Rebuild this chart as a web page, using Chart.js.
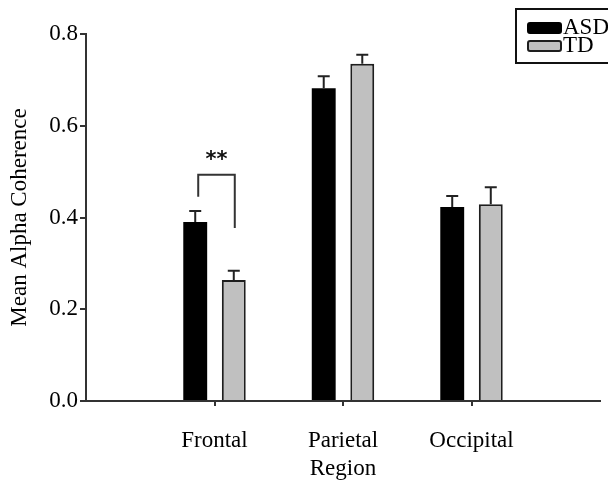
<!DOCTYPE html>
<html>
<head>
<meta charset="utf-8">
<script src="https://cdn.jsdelivr.net/npm/chart.js@4/dist/chart.umd.min.js"></script>
<style>
  body { margin: 0; background: #fff; }
  canvas { display: block; }
</style>
</head>
<body>
<canvas id="chart" width="608" height="484"></canvas>
<script>
// data
var regions = ['', 'Frontal', 'Parietal', 'Occipital', ''];
var asdMean = [null, 0.39, 0.682, 0.423, null];
var asdErr = [null, 0.024, 0.026, 0.024, null];
var tdMean = [null, 0.264, 0.735, 0.429, null];
var tdErr = [null, 0.02, 0.02, 0.037, null];
var yTicks = [0, 0.2, 0.4, 0.6, 0.8];
// significance bracket on Frontal: left leg end, top, right leg end
var bracketIndex = 1;
var bracketVals = [0.445, 0.493, 0.377];
var bracketLabel = '**';

var serif = "'Liberation Serif', 'Times New Roman', serif";
var ink = '#222';

var errorBars = {
  id: 'errorBars',
  afterDatasetsDraw: function(chart) {
    var ctx = chart.ctx;
    var y = chart.scales.y;
    var errs = [asdErr, tdErr];
    ctx.save();
    ctx.strokeStyle = ink;
    ctx.lineWidth = 2;
    chart.data.datasets.forEach(function(ds, d) {
      var meta = chart.getDatasetMeta(d);
      meta.data.forEach(function(bar, i) {
        if (ds.data[i] == null) return;
        var top = y.getPixelForValue(ds.data[i] + errs[d][i]);
        ctx.beginPath();
        ctx.moveTo(bar.x, bar.y);
        ctx.lineTo(bar.x, top);
        ctx.moveTo(bar.x - 6, top);
        ctx.lineTo(bar.x + 6, top);
        ctx.stroke();
      });
    });

    // bracket
    var a = chart.getDatasetMeta(0).data[bracketIndex];
    var b = chart.getDatasetMeta(1).data[bracketIndex];
    var x1 = a.x + 3, x2 = b.x + 1;
    var yl = y.getPixelForValue(bracketVals[0]);
    var yt = y.getPixelForValue(bracketVals[1]);
    var yr = y.getPixelForValue(bracketVals[2]);
    ctx.strokeStyle = '#333';
    ctx.beginPath();
    ctx.moveTo(x1, yl);
    ctx.lineTo(x1, yt);
    ctx.lineTo(x2, yt);
    ctx.lineTo(x2, yr);
    ctx.stroke();
    ctx.fillStyle = '#111';
    ctx.font = "bold 21px 'DejaVu Sans', sans-serif";
    ctx.textAlign = 'center';
    ctx.textBaseline = 'middle';
    ctx.fillText(bracketLabel, (x1 + x2) / 2, yt - 14);
    ctx.restore();
  }
};

var boxLegend = {
  id: 'boxLegend',
  afterDraw: function(chart) {
    var ctx = chart.ctx;
    ctx.save();
    ctx.strokeStyle = '#111';
    ctx.lineWidth = 2;
    ctx.strokeRect(516, 9, 100, 54);
    var rows = [22, 40];
    chart.data.datasets.forEach(function(ds, d) {
      var ty = rows[d];
      ctx.fillStyle = ds.backgroundColor;
      ctx.strokeStyle = ds.borderColor;
      ctx.lineWidth = 2;
      ctx.beginPath();
      ctx.roundRect(528, ty + 1, 33, 10, 2);
      ctx.fill();
      ctx.stroke();
      ctx.fillStyle = '#000';
      ctx.font = '23px ' + serif;
      ctx.textAlign = 'left';
      ctx.textBaseline = 'middle';
      ctx.fillText(ds.label, 563, ty + 6);
    });
    ctx.restore();
  }
};

new Chart(document.getElementById('chart'), {
  type: 'bar',
  data: {
    labels: regions,
    datasets: [
      {
        label: 'ASD',
        data: asdMean,
        backgroundColor: '#000',
        borderColor: '#000',
        borderWidth: 0
      },
      {
        label: 'TD',
        data: tdMean,
        backgroundColor: '#c0c0c0',
        borderColor: '#1e1e1e',
        borderWidth: 2,
        borderSkipped: 'bottom'
      }
    ]
  },
  options: {
    responsive: false,
    animation: false,
    devicePixelRatio: 1,
    layout: { padding: { top: 34, right: 8, left: 0, bottom: 0 } },
    plugins: {
      legend: { display: false },
      tooltip: { enabled: false }
    },
    datasets: {
      bar: { categoryPercentage: 0.6, barPercentage: 0.62 }
    },
    scales: {
      x: {
        offset: false,
        afterFit: function(s) {
          s.height = 83;
          s.paddingLeft = 0;
          s.paddingRight = 0;
        },
        grid: {
          offset: false,
          drawOnChartArea: false,
          tickLength: 5,
          lineWidth: 2,
          color: function(c) { return regions[c.index] ? '#333' : 'rgba(0,0,0,0)'; }
        },
        border: { display: true, color: '#333', width: 2 },
        ticks: {
          color: '#000',
          padding: 21,
          maxRotation: 0,
          autoSkip: false,
          font: { family: serif, size: 23 }
        },
        title: {
          display: true,
          text: 'Region',
          color: '#000',
          padding: { top: 0, bottom: 1 },
          font: { family: serif, size: 23 }
        }
      },
      y: {
        min: 0,
        max: 0.8,
        afterFit: function(s) { s.width = 86; },
        afterBuildTicks: function(s) {
          s.ticks = yTicks.map(function(v) { return { value: v }; });
        },
        grid: {
          drawOnChartArea: false,
          tickLength: 6,
          lineWidth: 2,
          color: '#333'
        },
        border: { display: true, color: '#333', width: 2 },
        ticks: {
          color: '#000',
          padding: 2,
          font: { family: serif, size: 23 },
          callback: function(v) { return v.toFixed(1); }
        },
        title: {
          display: true,
          text: 'Mean Alpha Coherence',
          color: '#000',
          padding: { top: 6, bottom: 0 },
          font: { family: serif, size: 23 }
        }
      }
    }
  },
  plugins: [errorBars, boxLegend]
});
</script>
</body>
</html>
